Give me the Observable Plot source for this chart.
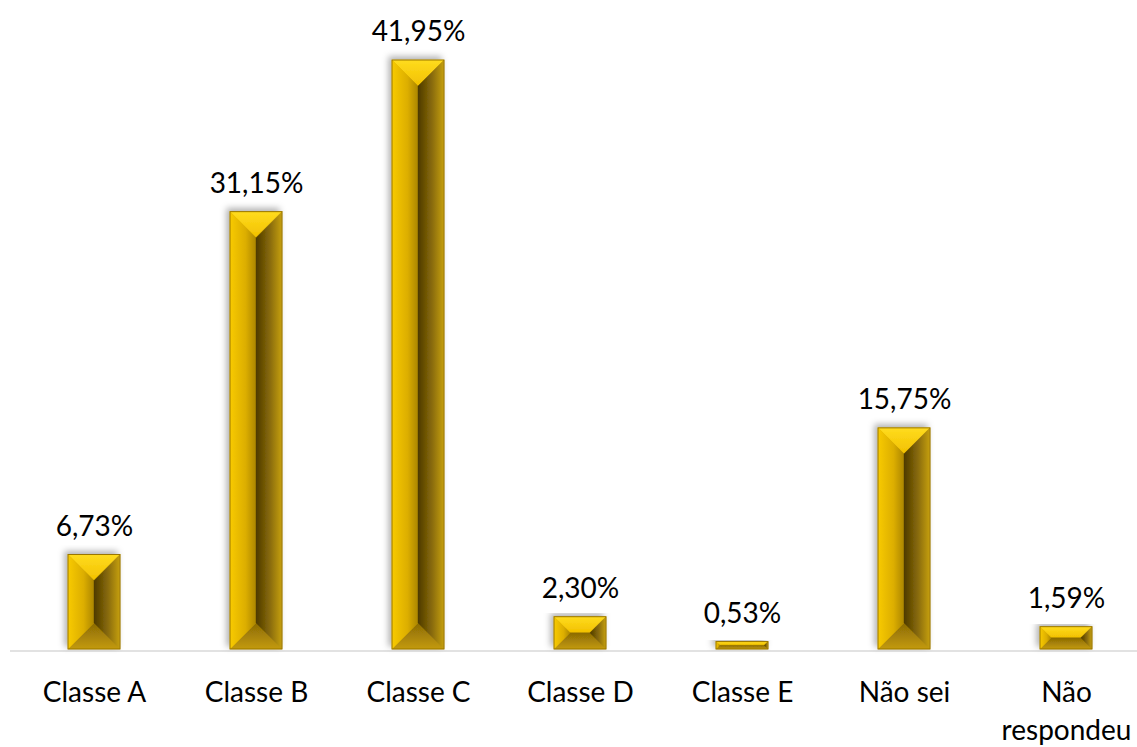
<!DOCTYPE html>
<html><head><meta charset="utf-8">
<script src="https://cdn.jsdelivr.net/npm/d3@7"></script>
<script src="https://cdn.jsdelivr.net/npm/@observablehq/plot@0.6"></script>
<style>body{margin:0;background:#fff;} #chart svg{display:block;}</style>
</head><body><div id="chart"></div>
<script>
const categories = ["Classe A","Classe B","Classe C","Classe D","Classe E","Não sei","Não\nrespondeu"];
const values = [6.73, 31.15, 41.95, 2.30, 0.53, 15.75, 1.59];
const valueLabels = ["6,73%","31,15%","41,95%","2,30%","0,53%","15,75%","1,59%"];
const data = categories.map((c, i) => ({category: c, value: values[i], label: valueLabels[i]}));

const NS = "http://www.w3.org/2000/svg";
const GRADS = `
<filter id="shadow" x="-30%" y="-10%" width="160%" height="130%">
  <feDropShadow dx="-3" dy="-3" stdDeviation="3" flood-color="#000" flood-opacity="0.3"/>
</filter>
<linearGradient id="gTop" x1="0" y1="0" x2="0" y2="1">
  <stop offset="0" stop-color="#FFDC1E"/><stop offset="1" stop-color="#F2C000"/>
</linearGradient>
<linearGradient id="gBottom" x1="0" y1="0" x2="0" y2="1">
  <stop offset="0" stop-color="#8C6B05"/><stop offset="1" stop-color="#C39A0A"/>
</linearGradient>
<linearGradient id="gLeft" x1="0" y1="0" x2="1" y2="0">
  <stop offset="0" stop-color="#F8CA00"/><stop offset="0.6" stop-color="#DCAE00"/><stop offset="1" stop-color="#AC8600"/>
</linearGradient>
<linearGradient id="gRight" x1="0" y1="0" x2="1" y2="0">
  <stop offset="0" stop-color="#4E3A00"/><stop offset="0.55" stop-color="#8A6C0A"/><stop offset="1" stop-color="#C6A010"/>
</linearGradient>`;

function bevel(index, scales, vals, dimensions, context, next) {
  const g = next(index, scales, vals, dimensions, context);
  const doc = context.document;
  const defs = doc.createElementNS(NS, "defs");
  defs.innerHTML = GRADS;
  g.prepend(defs);
  for (const r of Array.from(g.querySelectorAll("rect"))) {
    const x = +r.getAttribute("x"), y = +r.getAttribute("y");
    const w = +r.getAttribute("width"), h = +r.getAttribute("height");
    const d = Math.min(w / 2, h / 2);
    const L = x, R = x + w, T = y, B = y + h;
    const wrap = doc.createElementNS(NS, "g");
    wrap.setAttribute("filter", "url(#shadow)");
    r.replaceWith(wrap);
    wrap.appendChild(r);
    const facets = [
      [[[L,T],[R,T],[R-d,T+d],[L+d,T+d]], "gTop"],
      [[[L,B],[R,B],[R-d,B-d],[L+d,B-d]], "gBottom"],
      [[[L,T],[L+d,T+d],[L+d,B-d],[L,B]], "gLeft"],
      [[[R,T],[R-d,T+d],[R-d,B-d],[R,B]], "gRight"]
    ];
    for (const [pts, id] of facets) {
      const p = doc.createElementNS(NS, "polygon");
      p.setAttribute("points", pts.map(q => q.join(",")).join(" "));
      p.setAttribute("fill", `url(#${id})`);
      p.setAttribute("stroke", `url(#${id})`);
      p.setAttribute("stroke-width", "0.4");
      wrap.appendChild(p);
    }
    const o = doc.createElementNS(NS, "rect");
    o.setAttribute("x", L); o.setAttribute("y", T);
    o.setAttribute("width", w); o.setAttribute("height", h);
    o.setAttribute("fill", "none"); o.setAttribute("stroke", "#9A7600"); o.setAttribute("stroke-width", "1");
    wrap.appendChild(o);
  }
  return g;
}

const chart = Plot.plot({
  width: 1137,
  height: 747,
  marginLeft: 10,
  marginRight: 0,
  marginTop: 0,
  marginBottom: 98,
  style: {fontFamily: "Lato, 'Open Sans', sans-serif", background: "#fff", color: "#000"},
  x: {domain: categories, range: [10.7, 1149.3], paddingInner: 0.68, paddingOuter: 0.34, label: null},
  y: {domain: [0, 41.95], range: [649, 60], axis: null},
  marks: [
    Plot.ruleY([0], {stroke: "#d9d9d9", strokeWidth: 1.5, dy: 1.5}),
    Plot.barY(data, {x: "category", y: "value", fill: "#C9A000", render: bevel}),
    Plot.text(data, {x: "category", y: "value", text: "label", dy: -28, lineAnchor: "middle", fontSize: 28, fill: "#000"}),
    Plot.axisX({tickSize: 0, tickPadding: 25, fontSize: 28, lineHeight: 1.36, fill: "#000", label: null})
  ]
});
document.getElementById("chart").appendChild(chart);
</script>
</body></html>
